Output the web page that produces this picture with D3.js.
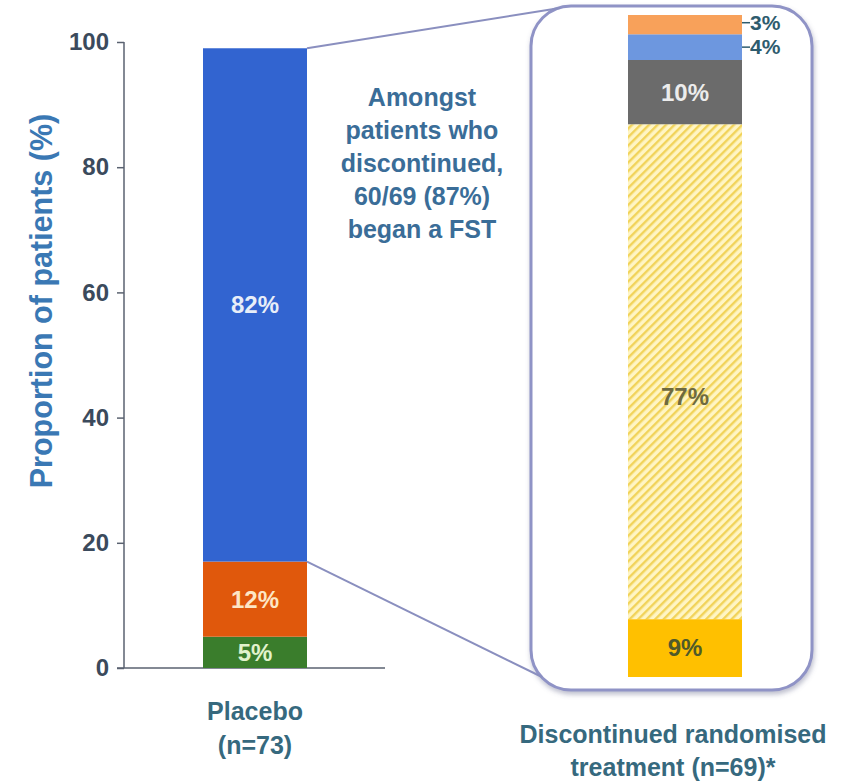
<!DOCTYPE html>
<html>
<head>
<meta charset="utf-8">
<script src="https://cdn.jsdelivr.net/npm/d3@7/dist/d3.min.js"></script>
<style>
  html, body { margin: 0; padding: 0; background: #ffffff; }
  svg { display: block; font-family: "Liberation Sans", Arial, sans-serif; font-weight: bold; }
</style>
</head>
<body>
<svg id="chart" width="849" height="782"></svg>
<script>
// ---- data ----
const placeboValues = [5, 12, 82];             // bottom to top
const discontinuedValues = [9, 77, 10, 4, 3];  // bottom to top
const yTicks = [0, 20, 40, 60, 80, 100];
const placeboLabel = ["Placebo", "(n=73)"];
const discontinuedLabel = ["Discontinued randomised", "treatment (n=69)*"];
const yAxisTitle = "Proportion of patients (%)";
const noteLines = ["Amongst", "patients who", "discontinued,", "60/69 (87%)", "began a FST"];

// ---- styles ----
const placeboFill = ["#3a7d2c", "#e0580c", "#3264d0"];
const placeboText = ["#e2f3cc", "#fde6c6", "#e8eef8"];
const discFill = ["#ffc000", "url(#hatch)", "#6b6b6b", "#6d97df", "#f8a15a"];
const discText = ["#4f5a2a", "#6e6a40", "#ececec", "#2e5c6e", "#2e5c6e"];
const discLabelOutside = [false, false, false, true, true];
const discLabelPos = [0.5, 0.45, 0.5, 0.5, 0.6];

const svg = d3.select("#chart");
const defs = svg.append("defs");

// diagonal hatch for the large segment
const pat = defs.append("pattern")
  .attr("id", "hatch").attr("patternUnits", "userSpaceOnUse")
  .attr("width", 6).attr("height", 6)
  .attr("patternTransform", "rotate(45)");
pat.append("rect").attr("width", 6).attr("height", 6).attr("fill", "#fff5c4");
pat.append("rect").attr("x", 0).attr("width", 2.4).attr("height", 6).attr("fill", "#f1d35a");

const shadow = defs.append("filter").attr("id", "boxShadow")
  .attr("x", "-10%").attr("y", "-10%").attr("width", "120%").attr("height", "120%");
shadow.append("feDropShadow").attr("dx", 1).attr("dy", 3).attr("stdDeviation", 2.5)
  .attr("flood-color", "#6a7090").attr("flood-opacity", 0.45);

// ---- scales ----
const y = d3.scaleLinear().domain([0, 100]).range([668, 42]);
const discTotal = d3.sum(discontinuedValues);
const y2 = d3.scaleLinear().domain([0, discTotal]).range([677, 15]);

const placeboX = 203, placeboW = 104;
const discX = 628, discW = 114;

// ---- zoom box and connectors ----
const placeboCum = [0, ...d3.cumsum(placeboValues)];
svg.append("rect")
  .attr("x", 531).attr("y", 6).attr("width", 281).attr("height", 684)
  .attr("rx", 40).attr("ry", 40)
  .attr("fill", "#ffffff").attr("stroke", "#8f93c6").attr("stroke-width", 3)
  .attr("filter", "url(#boxShadow)");

svg.append("line")
  .attr("x1", placeboX + placeboW).attr("y1", y(placeboCum[3]))
  .attr("x2", 560).attr("y2", 8)
  .attr("stroke", "#8a8fbf").attr("stroke-width", 2);
svg.append("line")
  .attr("x1", placeboX + placeboW).attr("y1", y(placeboCum[2]))
  .attr("x2", 542).attr("y2", 677)
  .attr("stroke", "#8a8fbf").attr("stroke-width", 2);

// ---- axes ----
const axisG = svg.append("g").attr("transform", "translate(124,0)");
axisG.call(d3.axisLeft(y).tickValues(yTicks).tickSize(7).tickPadding(8));
axisG.select(".domain").attr("stroke", "#5a6270").attr("stroke-width", 1.5)
  .attr("d", `M0,${y(100)}V${y(0)}`);
axisG.selectAll(".tick line").attr("stroke", "#5a6270").attr("stroke-width", 1.5);
axisG.selectAll(".tick text")
  .attr("fill", "#3b4a5c").attr("font-size", 24).attr("font-weight", "bold")
  .attr("font-family", "Liberation Sans, Arial, sans-serif");

svg.append("line")
  .attr("x1", 117).attr("x2", 385).attr("y1", y(0)).attr("y2", y(0))
  .attr("stroke", "#5a6270").attr("stroke-width", 1.5);

svg.append("text")
  .attr("transform", `translate(52,${(112 + 490) / 2}) rotate(-90)`)
  .attr("text-anchor", "middle")
  .attr("font-size", 30.5).attr("fill", "#3a78b4")
  .text(yAxisTitle);

// ---- placebo bar ----
const pg = svg.append("g");
placeboValues.forEach((v, i) => {
  const y0 = y(placeboCum[i]), y1 = y(placeboCum[i + 1]);
  pg.append("rect").attr("x", placeboX).attr("y", y1)
    .attr("width", placeboW).attr("height", y0 - y1).attr("fill", placeboFill[i]);
  pg.append("text").attr("x", placeboX + placeboW / 2).attr("y", (y0 + y1) / 2)
    .attr("dy", "0.35em").attr("text-anchor", "middle")
    .attr("font-size", 24).attr("fill", placeboText[i])
    .text(v + "%");
});

// ---- discontinued bar ----
const discCum = [0, ...d3.cumsum(discontinuedValues)];
const dg = svg.append("g");
discontinuedValues.forEach((v, i) => {
  const y0 = y2(discCum[i]), y1 = y2(discCum[i + 1]);
  dg.append("rect").attr("x", discX).attr("y", y1)
    .attr("width", discW).attr("height", y0 - y1).attr("fill", discFill[i]);
  const ly = y2(discCum[i] + v * discLabelPos[i]);
  if (discLabelOutside[i]) {
    dg.append("line").attr("x1", discX + discW).attr("x2", discX + discW + 8)
      .attr("y1", ly).attr("y2", ly).attr("stroke", "#2e5c6e").attr("stroke-width", 1.5);
    dg.append("text").attr("x", discX + discW + 8).attr("y", ly)
      .attr("dy", "0.35em").attr("font-size", 21).attr("fill", discText[i])
      .text(v + "%");
  } else {
    dg.append("text").attr("x", discX + discW / 2).attr("y", ly)
      .attr("dy", "0.35em").attr("text-anchor", "middle")
      .attr("font-size", 24).attr("fill", discText[i])
      .text(v + "%");
  }
});

// ---- note ----
svg.append("g").selectAll("text").data(noteLines).join("text")
  .attr("x", 422).attr("y", (d, i) => 106 + i * 33)
  .attr("text-anchor", "middle").attr("font-size", 25).attr("fill", "#3a6d98")
  .text(d => d);

// ---- group labels ----
svg.append("g").selectAll("text").data(placeboLabel).join("text")
  .attr("x", placeboX + placeboW / 2).attr("y", (d, i) => 720 + i * 34)
  .attr("text-anchor", "middle").attr("font-size", 25).attr("fill", "#36697e")
  .text(d => d);
svg.append("g").selectAll("text").data(discontinuedLabel).join("text")
  .attr("x", 673).attr("y", (d, i) => 743 + i * 33)
  .attr("text-anchor", "middle").attr("font-size", 25).attr("fill", "#36697e")
  .text(d => d);
</script>
</body>
</html>
